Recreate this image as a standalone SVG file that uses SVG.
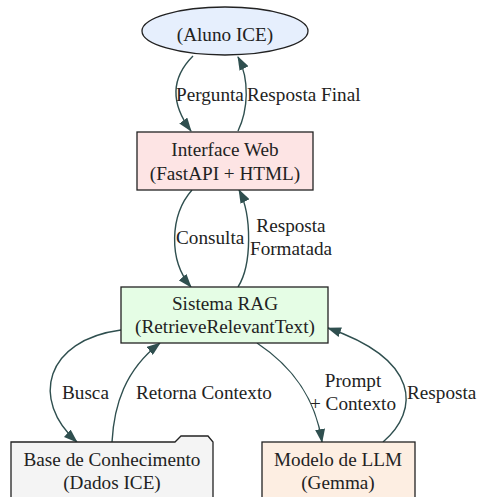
<svg xmlns="http://www.w3.org/2000/svg" width="479" height="497" viewBox="0 0 479 497">
  <style>
    text { font-family: "Liberation Serif", "Times New Roman", serif; font-size: 19.2px; fill: #222; }
    .node { text-anchor: middle; }
    .shape { stroke: #222; stroke-width: 1.3; }
    .edge { fill: none; stroke: #2f4f4f; stroke-width: 1.4; }
  </style>
  <defs>
    <marker id="arrow" markerUnits="userSpaceOnUse" markerWidth="14" markerHeight="10" viewBox="0 0 14 10" refX="13" refY="5" orient="auto">
      <path d="M0,0 L14,5 L0,10 z" fill="#2f4f4f"/>
    </marker>
  </defs>
  <rect width="479" height="497" fill="#ffffff"/>

  <g id="connectors">
    <path class="edge" marker-end="url(#arrow)" d="M193,56 C174,75 168,100 191,131"/>
    <path class="edge" marker-end="url(#arrow)" d="M238,131 C248,110 250,80 238,57"/>
    <path class="edge" marker-end="url(#arrow)" d="M192,190 C170,215 168,260 191,287"/>
    <path class="edge" marker-end="url(#arrow)" d="M238,287 C252,265 252,215 239,190"/>
    <path class="edge" marker-end="url(#arrow)" d="M121,330 C45,340 30,400 77,442"/>
    <path class="edge" marker-end="url(#arrow)" d="M112,442 C114,405 125,370 160,343"/>
    <path class="edge" marker-end="url(#arrow)" d="M257,343 C290,365 315,395 322,442"/>
    <path class="edge" marker-end="url(#arrow)" d="M383,442 C420,410 420,360 328,328"/>

    <text x="176" y="101">Pergunta</text>
    <text x="247" y="101">Resposta Final</text>
    <text x="176" y="244">Consulta</text>
    <text x="291" y="232" text-anchor="middle">Resposta</text>
    <text x="291" y="255" text-anchor="middle">Formatada</text>
    <text x="62" y="399">Busca</text>
    <text x="136" y="399">Retorna Contexto</text>
    <text x="353" y="387" text-anchor="middle">Prompt</text>
    <text x="353" y="410" text-anchor="middle">+ Contexto</text>
    <text x="407" y="399">Resposta</text>
  </g>

  <g id="aluno">
    <ellipse class="shape" cx="225" cy="31" rx="83" ry="24" fill="#e6effd"/>
    <text class="node" x="225" y="41">(Aluno ICE)</text>
  </g>

  <g id="interface-web">
    <rect class="shape" x="137" y="132" width="176" height="58" fill="#fde4e4"/>
    <text class="node" x="225" y="156">Interface Web</text>
    <text class="node" x="225" y="180">(FastAPI + HTML)</text>
  </g>

  <g id="sistema-rag">
    <rect class="shape" x="121" y="287" width="207" height="56" fill="#e5fde5"/>
    <text class="node" x="225" y="310">Sistema RAG</text>
    <text class="node" x="225" y="333">(RetrieveRelevantText)</text>
  </g>

  <g id="base-conhecimento">
    <path class="shape" fill="#f4f4f4" d="M11,442 L175,442 L181,436 L208,436 L213,442 L213,502 L11,502 Z"/>
    <text class="node" x="112" y="466">Base de Conhecimento</text>
    <text class="node" x="112" y="489">(Dados ICE)</text>
  </g>

  <g id="modelo-llm">
    <rect class="shape" x="262" y="442" width="153" height="60" fill="#fdeee2"/>
    <text class="node" x="338" y="466">Modelo de LLM</text>
    <text class="node" x="338" y="489">(Gemma)</text>
  </g>
</svg>
